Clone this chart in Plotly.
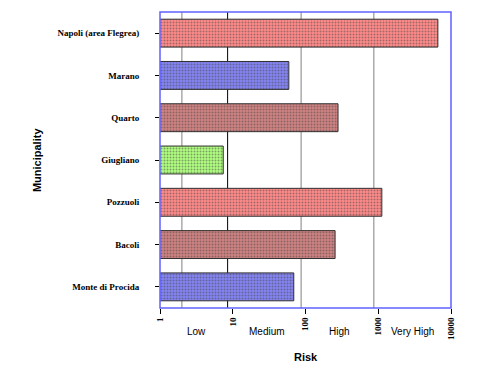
import math
import plotly.graph_objects as go

municipalities = ["Napoli (area Flegrea)", "Marano", "Quarto", "Giugliano",
                  "Pozzuoli", "Bacoli", "Monte di Procida"]
risk_values = [6600, 59, 280, 7.4, 1120, 255, 69]
bar_colors = ["#ff8a8a", "#8484f2", "#d08282", "#b0ff80", "#ff8a8a", "#d08282", "#8484f2"]
pattern_colors = ["#ff2020", "#2020e0", "#c02020", "#60e020", "#ff2020", "#c02020", "#2020e0"]
tick_vals = [1, 10, 100, 1000, 10000]
tick_text = ["<b>1</b>", "<b>10</b>", "<b>100</b>", "<b>1000</b>", "<b>10000</b>"]
grid_vals = [2, 8.5, 87, 870]
grid_cols = ["#808080", "#000000", "#808080", "#808080"]
risk_classes = ["Low", "Medium", "High", "Very High"]
risk_class_pos = [3.2, 30, 290, 3000]

fig = go.Figure()
fig.add_trace(go.Bar(
    y=municipalities, x=risk_values, orientation="h",
    marker=dict(color=bar_colors,
                line=dict(color="#303030", width=1),
                pattern=dict(shape=".", fgcolor=pattern_colors, bgcolor=bar_colors,
                             size=3, solidity=0.35, fillmode="overlay")),
    width=0.66,
))

shapes = []
for g, c in zip(grid_vals, grid_cols):
    shapes.append(dict(type="line", xref="x", yref="paper", x0=g, x1=g, y0=0, y1=1,
                       line=dict(color=c, width=1), layer="below"))
shapes.append(dict(type="rect", xref="paper", yref="paper", x0=0, x1=1, y0=0, y1=1,
                   line=dict(color="#6060ff", width=1.5), layer="above"))

annotations = []
for t, p in zip(risk_classes, risk_class_pos):
    annotations.append(dict(text=t, x=math.log10(p), xref="x", y=-0.105, yref="paper",
                            showarrow=False,
                            font=dict(family="Liberation Sans", size=10, color="#000")))
annotations.append(dict(text="<b>Risk</b>", x=0.5, xref="paper", y=-0.193, yref="paper",
                        showarrow=False, font=dict(family="Liberation Sans", size=11, color="#000")))
annotations.append(dict(text="<b>Municipality</b>", x=-0.45, xref="paper", y=0.5, yref="paper",
                        textangle=-90, showarrow=False,
                        font=dict(family="Liberation Sans", size=11, color="#000")))

fig.update_layout(
    width=500, height=375,
    margin=dict(l=152, r=57, t=4, b=75),
    paper_bgcolor="white", plot_bgcolor="white",
    showlegend=False,
    shapes=shapes, annotations=annotations,
    xaxis=dict(type="log", range=[0, 4], tickvals=tick_vals, ticktext=tick_text,
               tickangle=-90, ticks="outside", ticklen=5, tickcolor="#000",
               showgrid=False, zeroline=False,
               tickfont=dict(family="Liberation Serif", size=9, color="#000")),
    yaxis=dict(categoryorder="array", categoryarray=municipalities[::-1],
               range=[-0.5, 6.5], ticks="outside", ticklen=4, tickcolor="#000",
               ticklabelstandoff=14, showgrid=False,
               tickfont=dict(family="Liberation Serif", size=9, color="#000")),
)
fig.update_yaxes(tickprefix="<b>", ticksuffix="</b>")
fig.write_html("out.html")
